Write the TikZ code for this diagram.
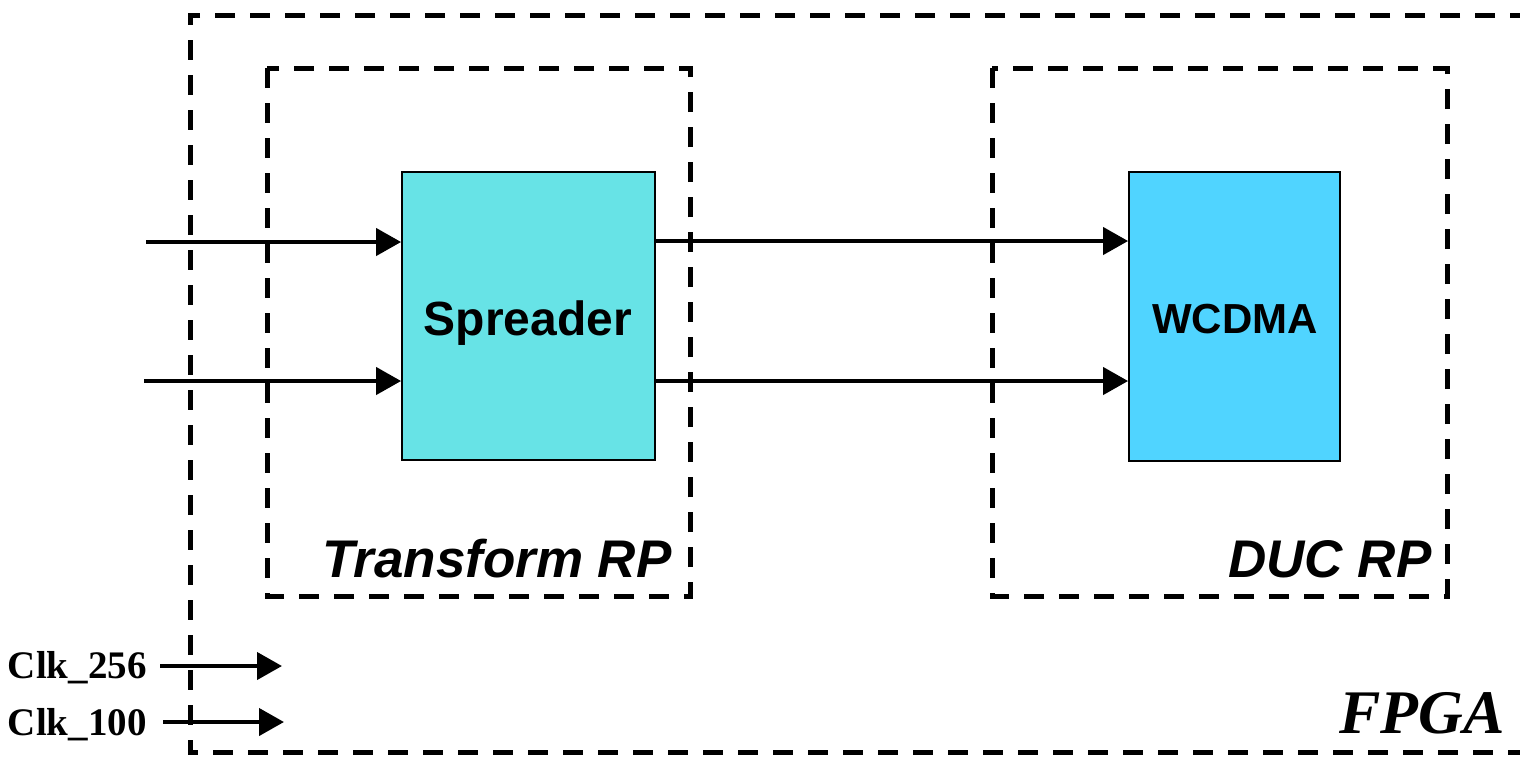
\documentclass[tikz,border=0pt]{standalone}
\usepackage{fontspec}
\setmainfont{Liberation Serif}
\newfontfamily\arialfont{Liberation Sans}
\usetikzlibrary{arrows.meta}
\definecolor{spreadfill}{RGB}{103,227,230}
\definecolor{wcdmafill}{RGB}{80,212,255}
\tikzset{
  dashbox/.style={draw=black, line width=2.5pt, dash pattern=on 10pt off 7.5pt},
  block/.style={draw=black, line width=0.9pt, inner sep=0pt},
  blocktext/.style={inner sep=0pt, anchor=base},
  arr/.style={line width=2.1pt, -{Triangle[length=12.5pt,width=13.5pt]}},
  rplabel/.style={font=\arialfont\bfseries\itshape\fontsize{26.5}{30}\selectfont, inner sep=0pt, anchor=base east},
  clklabel/.style={font=\bfseries\fontsize{19.5}{22}\selectfont, inner sep=0pt, anchor=base east},
}
\begin{document}
\begin{tikzpicture}[x=0.5pt,y=-0.5pt]
\useasboundingbox (0,0) rectangle (1520,757);
% FPGA outline (right side outside the picture)
\draw[dashbox] (1530,15) -- (190,15) -- (190,752) -- (1530,752);
\node[font=\bfseries\itshape\fontsize{31}{36}\selectfont, inner sep=0pt, anchor=base east] (fpga) at (1505,733) {FPGA};
% RP boxes
\draw[dashbox] (267,68) rectangle (690,596);
\draw[dashbox] (992,68) rectangle (1447,596);
\node[rplabel] (trp) at (672,577) {Transform RP};
\node[rplabel] (drp) at (1432,577) {DUC RP};
% blocks
\node[block, fill=spreadfill, minimum width=126.5pt, minimum height=144pt] (sp) at (528.5,316) {};
\node[blocktext, font=\arialfont\bfseries\fontsize{24}{28}\selectfont] (spt) at (528,335) {Spreader};
\node[block, fill=wcdmafill, minimum width=105.5pt, minimum height=144.5pt] (wc) at (1234.5,316.5) {};
\node[blocktext, font=\arialfont\bfseries\fontsize{21}{25}\selectfont] (wct) at (1235,333) {WCDMA};
% inputs
\coordinate (in1) at (146,242);
\coordinate (in2) at (144,381);
\draw[arr] (in1) -- (sp.west |- in1);
\draw[arr] (in2) -- (sp.west |- in2);
% links
\coordinate (o1) at (655,241);
\coordinate (o2) at (655,381);
\draw[arr] (sp.east |- o1) -- (wc.west |- o1);
\draw[arr] (sp.east |- o2) -- (wc.west |- o2);
% clocks
\node[clklabel] (c256) at (147,678) {Clk\_256};
\node[clklabel] (c100) at (147,735) {Clk\_100};
\coordinate (c256s) at (160,666);
\coordinate (c256e) at (282,666);
\coordinate (c100s) at (163,722);
\coordinate (c100e) at (284,722);
\draw[arr] (c256s) -- (c256e);
\draw[arr] (c100s) -- (c100e);
\end{tikzpicture}
\end{document}
